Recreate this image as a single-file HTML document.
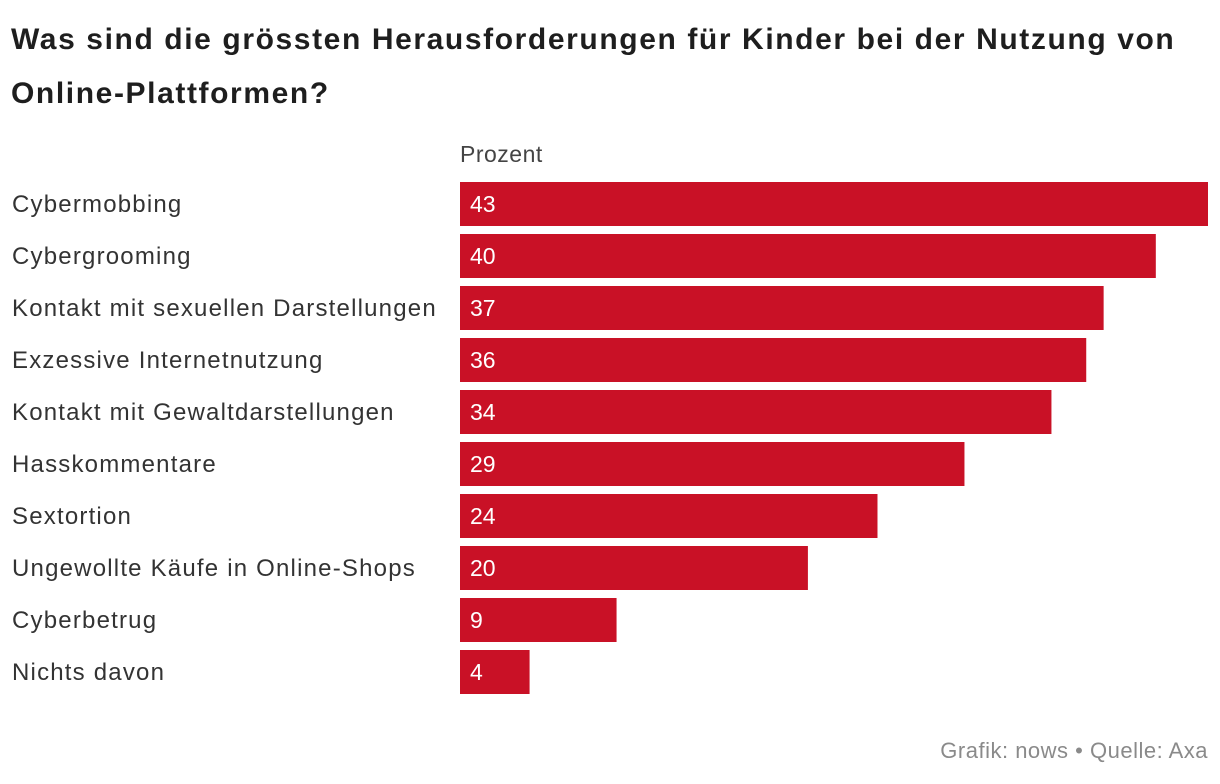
<!DOCTYPE html>
<html><head><meta charset="utf-8"><style>
body{margin:0;width:1220px;height:784px;background:#fff;font-family:"Liberation Sans",sans-serif;position:relative;overflow:hidden}
.t{position:absolute;left:11px;top:13px;font-size:30px;font-weight:bold;color:#1e1e1e;line-height:54px;width:1210px;white-space:nowrap;letter-spacing:1.6px}
.u{position:absolute;left:460px;top:141px;font-size:23px;color:#444;letter-spacing:0.5px}
.f{position:absolute;right:12px;top:738px;font-size:22px;color:#8a8a8a;letter-spacing:0.5px}
svg{position:absolute;left:0;top:0}
</style></head><body>
<div class="t">Was sind die grössten Herausforderungen für Kinder bei der Nutzung von<br>Online-Plattformen?</div>
<div class="u">Prozent</div>
<svg id="c" width="1220" height="784"></svg>
<div class="f">Grafik: nows • Quelle: Axa</div>
<script>
const categories=["Cybermobbing","Cybergrooming","Kontakt mit sexuellen Darstellungen","Exzessive Internetnutzung","Kontakt mit Gewaltdarstellungen","Hasskommentare","Sextortion","Ungewollte Käufe in Online-Shops","Cyberbetrug","Nichts davon"];
const values=[43,40,37,36,34,29,24,20,9,4];
const svg=document.getElementById('c');const NS="http://www.w3.org/2000/svg";
const x0=460,maxV=43,w=748;const xs=v=>v/maxV*w;
const y=i=>182+i*52;
categories.forEach((c,i)=>{
 const r=document.createElementNS(NS,'rect');
 r.setAttribute('x',x0);r.setAttribute('y',y(i));r.setAttribute('width',xs(values[i]));r.setAttribute('height',44);r.setAttribute('fill','#c91126');
 
 
 svg.appendChild(r);
 const l=document.createElementNS(NS,'text');
 l.setAttribute('x',12);l.setAttribute('y',y(i)+30);l.setAttribute('font-size','24');l.setAttribute('letter-spacing','1.2');l.setAttribute('fill','#333');l.textContent=c;
 
 
 svg.appendChild(l);
 const v=document.createElementNS(NS,'text');
 v.setAttribute('x',470);v.setAttribute('y',y(i)+30);v.setAttribute('font-size','23');v.setAttribute('fill','#fff');v.textContent=values[i];
 
 
 svg.appendChild(v);
});
</script>
</body></html>
